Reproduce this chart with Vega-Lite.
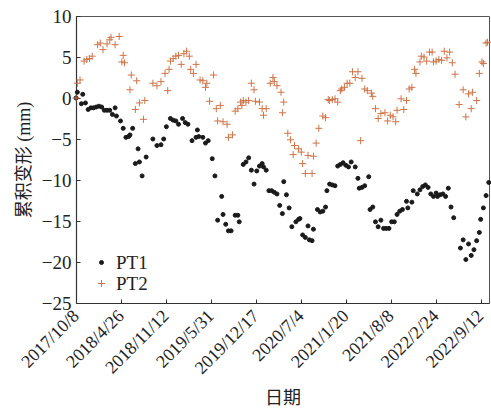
{
"$schema": "https://vega.github.io/schema/vega-lite/v6.json",
"autosize": "none",
"width": 413, "height": 287,
"padding": {"left": 76, "top": 16, "right": 2, "bottom": 109},
"background": "white",
"config": {"font": "Liberation Serif", "view": {"stroke": "#555", "strokeWidth": 1}},
"datasets": {
"PT1": [
{"date":"2017-10-08","value":0},{"date":"2017-10-14","value":0.7},{"date":"2017-11-01","value":-0.7},{"date":"2017-11-07","value":0.45},{"date":"2017-11-19","value":-0.6},{"date":"2017-12-01","value":-1.4},{"date":"2017-12-13","value":-1.2},{"date":"2017-12-25","value":-1.2},{"date":"2018-01-06","value":-1.1},{"date":"2018-01-18","value":-1.0},{"date":"2018-01-30","value":-1.1},{"date":"2018-02-11","value":-1.5},{"date":"2018-02-23","value":-1.5},{"date":"2018-03-07","value":-1.5},{"date":"2018-03-19","value":-2.0},{"date":"2018-03-31","value":-1.2},{"date":"2018-04-06","value":-2.2},{"date":"2018-04-24","value":-2.8},{"date":"2018-05-06","value":-3.7},{"date":"2018-05-18","value":-4.8},{"date":"2018-05-30","value":-4.7},{"date":"2018-06-05","value":-4.5},{"date":"2018-06-17","value":-3.7},{"date":"2018-06-29","value":-8.0},{"date":"2018-07-11","value":-6.2},{"date":"2018-07-17","value":-7.8},{"date":"2018-07-29","value":-9.5},{"date":"2018-08-16","value":-7.2},{"date":"2018-09-15","value":-5.0},{"date":"2018-10-03","value":-5.8},{"date":"2018-10-21","value":-5.7},{"date":"2018-11-02","value":-5.0},{"date":"2018-11-14","value":-3.5},{"date":"2018-12-02","value":-2.5},{"date":"2018-12-14","value":-2.7},{"date":"2018-12-26","value":-2.8},{"date":"2019-01-07","value":-3.2},{"date":"2019-01-25","value":-2.5},{"date":"2019-02-06","value":-3.0},{"date":"2019-02-18","value":-3.2},{"date":"2019-03-08","value":-5.2},{"date":"2019-03-26","value":-4.8},{"date":"2019-04-01","value":-3.9},{"date":"2019-04-07","value":-4.7},{"date":"2019-04-25","value":-4.8},{"date":"2019-05-07","value":-5.5},{"date":"2019-05-19","value":-5.2},{"date":"2019-06-06","value":-7.4},{"date":"2019-06-18","value":-9.5},{"date":"2019-06-30","value":-14.9},{"date":"2019-07-18","value":-12.0},{"date":"2019-07-24","value":-14.2},{"date":"2019-08-05","value":-15.4},{"date":"2019-08-17","value":-16.2},{"date":"2019-08-29","value":-16.2},{"date":"2019-09-16","value":-14.3},{"date":"2019-09-28","value":-14.3},{"date":"2019-10-04","value":-15.1},{"date":"2019-10-22","value":-8.1},{"date":"2019-11-03","value":-7.8},{"date":"2019-11-15","value":-7.3},{"date":"2019-11-27","value":-8.8},{"date":"2019-12-09","value":-10.5},{"date":"2019-12-21","value":-8.9},{"date":"2020-01-02","value":-8.3},{"date":"2020-01-14","value":-8.0},{"date":"2020-01-20","value":-8.4},{"date":"2020-02-01","value":-8.8},{"date":"2020-02-13","value":-11.3},{"date":"2020-02-25","value":-11.3},{"date":"2020-03-08","value":-11.5},{"date":"2020-03-20","value":-11.7},{"date":"2020-04-01","value":-13.1},{"date":"2020-04-13","value":-14.1},{"date":"2020-04-19","value":-10.2},{"date":"2020-05-01","value":-11.8},{"date":"2020-05-13","value":-13.4},{"date":"2020-05-25","value":-15.7},{"date":"2020-06-12","value":-15.1},{"date":"2020-06-24","value":-14.8},{"date":"2020-06-30","value":-14.7},{"date":"2020-07-12","value":-16.7},{"date":"2020-07-24","value":-17.0},{"date":"2020-08-05","value":-15.6},{"date":"2020-08-11","value":-17.3},{"date":"2020-08-23","value":-17.4},{"date":"2020-08-29","value":-16.0},{"date":"2020-09-16","value":-13.6},{"date":"2020-09-28","value":-13.9},{"date":"2020-10-10","value":-13.8},{"date":"2020-10-22","value":-13.3},{"date":"2020-10-28","value":-11.3},{"date":"2020-11-09","value":-10.5},{"date":"2020-11-21","value":-10.6},{"date":"2020-12-03","value":-10.7},{"date":"2020-12-15","value":-8.3},{"date":"2020-12-27","value":-8.1},{"date":"2021-01-08","value":-7.9},{"date":"2021-01-20","value":-8.2},{"date":"2021-02-01","value":-8.4},{"date":"2021-02-13","value":-7.8},{"date":"2021-03-03","value":-8.4},{"date":"2021-03-15","value":-9.8},{"date":"2021-03-21","value":-11.0},{"date":"2021-04-02","value":-10.9},{"date":"2021-04-14","value":-10.7},{"date":"2021-05-02","value":-9.6},{"date":"2021-05-08","value":-13.6},{"date":"2021-05-20","value":-13.3},{"date":"2021-06-01","value":-15.1},{"date":"2021-06-13","value":-15.7},{"date":"2021-06-25","value":-14.9},{"date":"2021-07-07","value":-15.9},{"date":"2021-07-19","value":-15.9},{"date":"2021-07-31","value":-15.9},{"date":"2021-08-12","value":-15.1},{"date":"2021-08-24","value":-15.1},{"date":"2021-09-05","value":-14.2},{"date":"2021-09-17","value":-13.8},{"date":"2021-09-29","value":-13.6},{"date":"2021-10-17","value":-12.6},{"date":"2021-10-23","value":-13.4},{"date":"2021-11-10","value":-12.7},{"date":"2021-11-16","value":-11.3},{"date":"2021-12-04","value":-11.7},{"date":"2021-12-16","value":-11.2},{"date":"2021-12-28","value":-10.8},{"date":"2022-01-09","value":-10.6},{"date":"2022-01-21","value":-10.9},{"date":"2022-02-02","value":-11.7},{"date":"2022-02-14","value":-12.0},{"date":"2022-02-26","value":-11.6},{"date":"2022-03-04","value":-12.0},{"date":"2022-03-16","value":-11.8},{"date":"2022-03-28","value":-11.7},{"date":"2022-04-09","value":-12.0},{"date":"2022-04-21","value":-11.0},{"date":"2022-05-03","value":-13.3},{"date":"2022-05-15","value":-14.6},{"date":"2022-06-14","value":-18.3},{"date":"2022-06-26","value":-17.3},{"date":"2022-07-08","value":-19.7},{"date":"2022-07-20","value":-17.8},{"date":"2022-08-01","value":-19.2},{"date":"2022-08-13","value":-18.5},{"date":"2022-08-25","value":-17.4},{"date":"2022-09-06","value":-16.4},{"date":"2022-09-12","value":-14.8},{"date":"2022-09-24","value":-13.4},{"date":"2022-10-06","value":-11.9},{"date":"2022-10-18","value":-10.3}
],
"PT2": [
{"date":"2017-10-08","value":0},{"date":"2017-10-14","value":1.8},{"date":"2017-10-26","value":2.2},{"date":"2017-11-13","value":4.5},{"date":"2017-11-25","value":4.7},{"date":"2017-12-07","value":4.8},{"date":"2017-12-19","value":5.1},{"date":"2018-01-12","value":6.5},{"date":"2018-01-24","value":6.7},{"date":"2018-02-05","value":5.9},{"date":"2018-02-23","value":6.6},{"date":"2018-03-07","value":7.1},{"date":"2018-03-13","value":7.4},{"date":"2018-03-31","value":6.5},{"date":"2018-04-18","value":7.5},{"date":"2018-04-30","value":4.4},{"date":"2018-05-06","value":5.2},{"date":"2018-05-12","value":4.3},{"date":"2018-06-05","value":1.0},{"date":"2018-06-11","value":2.8},{"date":"2018-06-29","value":-1.4},{"date":"2018-07-05","value":2.1},{"date":"2018-07-17","value":-0.6},{"date":"2018-08-04","value":-2.6},{"date":"2018-08-10","value":-0.3},{"date":"2018-09-15","value":1.8},{"date":"2018-10-03","value":1.5},{"date":"2018-10-21","value":2.0},{"date":"2018-11-08","value":3.0},{"date":"2018-11-20","value":0.9},{"date":"2018-11-26","value":3.5},{"date":"2018-12-02","value":4.5},{"date":"2018-12-14","value":4.8},{"date":"2018-12-26","value":5.1},{"date":"2019-01-07","value":5.2},{"date":"2019-01-19","value":4.1},{"date":"2019-01-31","value":5.4},{"date":"2019-02-12","value":5.7},{"date":"2019-02-24","value":5.1},{"date":"2019-03-02","value":3.5},{"date":"2019-03-14","value":3.0},{"date":"2019-03-26","value":4.1},{"date":"2019-04-13","value":2.2},{"date":"2019-04-25","value":2.1},{"date":"2019-05-07","value":1.3},{"date":"2019-05-13","value":1.8},{"date":"2019-05-25","value":-0.4},{"date":"2019-06-12","value":2.8},{"date":"2019-06-24","value":-1.3},{"date":"2019-06-30","value":-2.8},{"date":"2019-07-12","value":-0.9},{"date":"2019-07-24","value":-2.9},{"date":"2019-08-11","value":-3.2},{"date":"2019-08-17","value":-4.8},{"date":"2019-09-04","value":-4.5},{"date":"2019-09-16","value":-1.6},{"date":"2019-09-28","value":-1.3},{"date":"2019-10-10","value":-0.5},{"date":"2019-10-16","value":-0.9},{"date":"2019-10-22","value":-0.3},{"date":"2019-11-03","value":-0.5},{"date":"2019-11-15","value":-0.3},{"date":"2019-11-27","value":1.8},{"date":"2019-12-09","value":1.0},{"date":"2019-12-15","value":-0.4},{"date":"2020-01-02","value":-0.5},{"date":"2020-01-14","value":-1.3},{"date":"2020-01-20","value":-2.1},{"date":"2020-02-01","value":-1.3},{"date":"2020-02-19","value":1.8},{"date":"2020-03-02","value":2.5},{"date":"2020-03-08","value":2.0},{"date":"2020-03-20","value":1.5},{"date":"2020-04-07","value":0.7},{"date":"2020-04-13","value":-1.8},{"date":"2020-04-19","value":-0.5},{"date":"2020-05-07","value":-4.3},{"date":"2020-05-19","value":-5.1},{"date":"2020-05-31","value":-6.9},{"date":"2020-06-06","value":-5.8},{"date":"2020-06-24","value":-6.2},{"date":"2020-07-06","value":-6.6},{"date":"2020-07-12","value":-8.0},{"date":"2020-07-24","value":-9.2},{"date":"2020-08-05","value":-7.0},{"date":"2020-08-23","value":-9.2},{"date":"2020-08-29","value":-7.1},{"date":"2020-09-10","value":-5.5},{"date":"2020-09-22","value":-3.7},{"date":"2020-10-10","value":-2.2},{"date":"2020-10-22","value":-2.4},{"date":"2020-11-03","value":-0.2},{"date":"2020-11-09","value":-0.3},{"date":"2020-11-21","value":-0.2},{"date":"2020-12-03","value":-0.1},{"date":"2020-12-15","value":-0.5},{"date":"2020-12-27","value":0.9},{"date":"2021-01-02","value":1.1},{"date":"2021-01-14","value":1.3},{"date":"2021-01-26","value":1.8},{"date":"2021-02-07","value":1.8},{"date":"2021-02-19","value":3.2},{"date":"2021-03-03","value":2.5},{"date":"2021-03-15","value":3.2},{"date":"2021-03-27","value":-5.2},{"date":"2021-04-02","value":2.4},{"date":"2021-04-14","value":1.1},{"date":"2021-04-26","value":0.9},{"date":"2021-05-14","value":0.6},{"date":"2021-05-20","value":0.2},{"date":"2021-06-01","value":-1.3},{"date":"2021-06-13","value":-2.5},{"date":"2021-06-25","value":-1.9},{"date":"2021-07-13","value":-1.8},{"date":"2021-07-25","value":-2.8},{"date":"2021-08-06","value":-2.1},{"date":"2021-08-18","value":-2.3},{"date":"2021-08-30","value":-2.9},{"date":"2021-09-05","value":-1.5},{"date":"2021-09-23","value":-0.1},{"date":"2021-10-05","value":-1.4},{"date":"2021-10-17","value":-0.3},{"date":"2021-10-29","value":1.1},{"date":"2021-11-10","value":1.3},{"date":"2021-11-22","value":3.5},{"date":"2021-11-28","value":3.0},{"date":"2021-12-16","value":4.4},{"date":"2021-12-22","value":5.1},{"date":"2022-01-03","value":5.0},{"date":"2022-01-15","value":4.5},{"date":"2022-01-27","value":5.6},{"date":"2022-02-08","value":5.6},{"date":"2022-02-14","value":4.4},{"date":"2022-02-26","value":4.5},{"date":"2022-03-10","value":4.7},{"date":"2022-03-22","value":4.6},{"date":"2022-04-03","value":5.7},{"date":"2022-04-15","value":4.9},{"date":"2022-04-27","value":5.6},{"date":"2022-05-09","value":4.3},{"date":"2022-05-21","value":2.9},{"date":"2022-06-08","value":-0.8},{"date":"2022-06-26","value":1.0},{"date":"2022-07-08","value":-2.3},{"date":"2022-07-20","value":0.5},{"date":"2022-08-01","value":-1.3},{"date":"2022-08-07","value":0.7},{"date":"2022-08-25","value":-0.3},{"date":"2022-09-06","value":3.0},{"date":"2022-09-18","value":4.4},{"date":"2022-09-24","value":4.2},{"date":"2022-10-06","value":6.7},{"date":"2022-10-12","value":6.8}
]
},
"encoding": {
  "x": {"field": "date", "type": "temporal",
    "scale": {"type": "utc", "domain": [{"year": 2017, "month": 10, "date": 8, "utc": true}, {"year": 2022, "month": 10, "date": 19, "utc": true}]},
    "axis": {"title": "日期", "titleFont": "Noto Sans CJK SC", "titleFontSize": 18, "titleFontWeight": "normal", "titleColor": "#222", "titlePadding": 12,
      "values": [{"year":2017,"month":10,"date":8,"utc":true},{"year":2018,"month":4,"date":26,"utc":true},{"year":2018,"month":11,"date":12,"utc":true},{"year":2019,"month":5,"date":31,"utc":true},{"year":2019,"month":12,"date":17,"utc":true},{"year":2020,"month":7,"date":4,"utc":true},{"year":2021,"month":1,"date":20,"utc":true},{"year":2021,"month":8,"date":8,"utc":true},{"year":2022,"month":2,"date":24,"utc":true},{"year":2022,"month":9,"date":12,"utc":true}],
      "labelExpr": "utcFormat(datum.value, '%Y/%-m/%-d')", "labelAngle": -45, "labelAlign": "right", "labelBaseline": "middle", "labelFontSize": 18, "labelColor": "#222", "labelPadding": 14,
      "tickSize": -4, "tickColor": "#333", "domainColor": "#333", "domainWidth": 1.2, "grid": false, "labelFlush": false, "labelOverlap": false}},
  "y": {"field": "value", "type": "quantitative",
    "scale": {"domain": [-25, 10], "nice": false, "zero": false},
    "axis": {"title": "累积变形 (mm)", "titleFont": "Liberation Serif, Noto Sans CJK SC", "titleFontSize": 18, "titleFontWeight": "normal", "titleColor": "#222", "titlePadding": 8,
      "values": [-25, -20, -15, -10, -5, 0, 5, 10], "format": "d", "labelExpr": "replace(datum.label, '-', '−')", "labelFontSize": 19, "labelColor": "#222", "labelPadding": 9,
      "tickSize": -4, "tickColor": "#333", "domainColor": "#333", "domainWidth": 1.2, "grid": false}},
  "color": {"scale": {"domain": ["PT1", "PT2"], "range": ["#1a1a1a", "#cf7448"]},
    "legend": {"title": null, "orient": "none", "legendX": 16, "legendY": 237, "labelFontSize": 19, "labelColor": "#222", "rowPadding": 1, "symbolStrokeWidth": 1, "labelOffset": 5}},
  "fill": {"scale": {"domain": ["PT1", "PT2"], "range": ["#1a1a1a", "transparent"]}},
  "shape": {"scale": {"domain": ["PT1", "PT2"], "range": ["circle", "M-1,0L1,0M0,-1L0,1"]}},
  "size": {"scale": {"domain": ["PT1", "PT2"], "range": [16, 50]}}
},
"layer": [
  {"data": {"name": "PT1"}, "mark": {"type": "point", "filled": false, "strokeWidth": 1, "opacity": 1},
   "encoding": {"color": {"datum": "PT1"}, "fill": {"datum": "PT1"}, "shape": {"datum": "PT1"}, "size": {"datum": "PT1"}}},
  {"data": {"name": "PT2"}, "mark": {"type": "point", "filled": false, "strokeWidth": 1, "opacity": 1},
   "encoding": {"color": {"datum": "PT2"}, "fill": {"datum": "PT2"}, "shape": {"datum": "PT2"}, "size": {"datum": "PT2"}}}
]
}
